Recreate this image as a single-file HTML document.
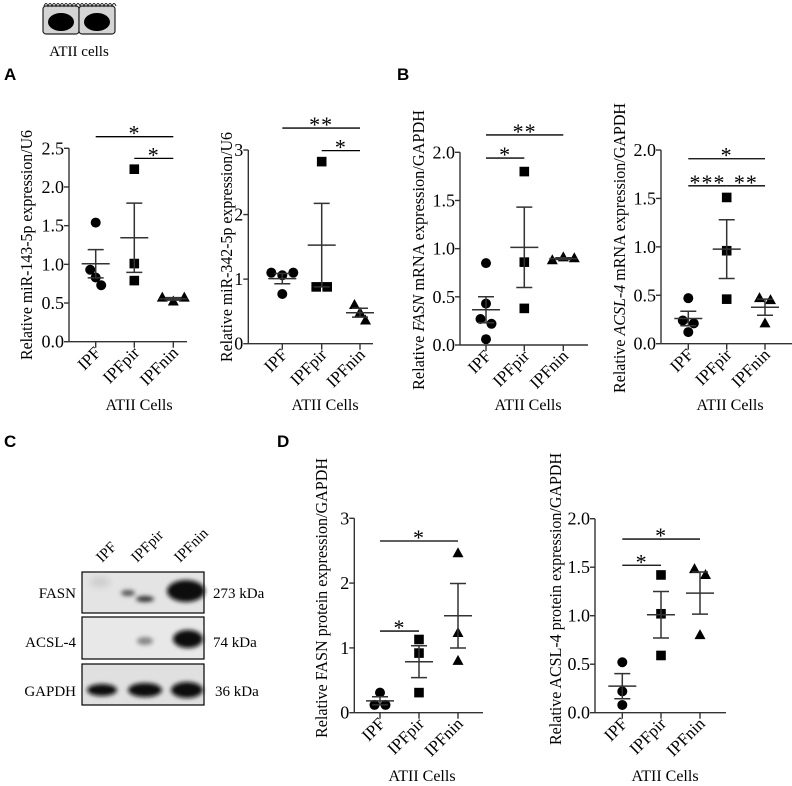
<!DOCTYPE html>
<html><head><meta charset="utf-8"><style>
html,body{margin:0;padding:0;background:#fff;}
svg{display:block;}
svg text{font-family:"Liberation Serif","Times New Roman",serif;}
svg text.pl{font-family:"Liberation Sans",Arial,sans-serif;font-weight:bold;font-size:17px;}
</style></head><body>
<svg id="fig" width="792" height="786" viewBox="0 0 792 786" xmlns="http://www.w3.org/2000/svg">
<defs><filter id="blur" x="-50%" y="-50%" width="200%" height="200%"><feGaussianBlur stdDeviation="2.2"/></filter>
<filter id="blur2" x="-50%" y="-50%" width="200%" height="200%"><feGaussianBlur stdDeviation="3.5"/></filter></defs>
<g>
  <rect x="43" y="6" width="36" height="28" rx="3" fill="#d4d4d4" stroke="#222" stroke-width="1.2"/>
  <rect x="79" y="6" width="36" height="28" rx="3" fill="#d4d4d4" stroke="#222" stroke-width="1.2"/>
  <path d="M44 6 q2 -5 4 0 q2 -5 4 0 q2 -5 4 0 q2 -5 4 0 q2 -5 4 0 q2 -5 4 0 q2 -5 4 0 q2 -5 4 0 q2 -5 4 0 q2 -5 4 0 q2 -5 4 0 q2 -5 4 0 q2 -5 4 0 q2 -5 4 0 q2 -5 4 0 q2 -5 4 0 q2 -5 4 0 q2 -5 4 0" fill="none" stroke="#222" stroke-width="1"/>
  <ellipse cx="61" cy="22" rx="13" ry="9" fill="#000"/>
  <ellipse cx="97" cy="22" rx="13" ry="9" fill="#000"/>
  <text x="79" y="56" text-anchor="middle" font-size="15">ATII cells</text>
</g>
<text class="pl" x="4" y="80">A</text>
<text class="pl" x="397" y="80">B</text>
<text class="pl" x="4" y="447">C</text>
<text class="pl" x="277" y="447">D</text>

<g>
  <text transform="translate(102,563) rotate(-45)" font-size="15">IPF</text>
  <text transform="translate(137,563) rotate(-45)" font-size="15">IPFpir</text>
  <text transform="translate(180,563) rotate(-45)" font-size="15">IPFnin</text>
  <rect x="82" y="572" width="122" height="41" fill="#e4e4e4" stroke="#000" stroke-width="1.2"/>
  <rect x="82" y="617" width="122" height="42" fill="#e8e8e8" stroke="#000" stroke-width="1.2"/>
  <rect x="82" y="664" width="122" height="41" fill="#e0e0e0" stroke="#000" stroke-width="1.2"/>
  <g filter="url(#blur)">
    <ellipse cx="128" cy="593" rx="7" ry="3" fill="#555"/>
    <ellipse cx="145" cy="599" rx="9" ry="3" fill="#333"/>
    <ellipse cx="186" cy="591" rx="19" ry="11" fill="#111"/>
    <ellipse cx="145" cy="641" rx="8" ry="4" fill="#888"/>
    <ellipse cx="188" cy="639" rx="15" ry="9" fill="#0a0a0a"/>
    <ellipse cx="102" cy="690" rx="15" ry="6" fill="#111"/>
    <ellipse cx="145" cy="690" rx="17" ry="7" fill="#0a0a0a"/>
    <ellipse cx="187" cy="690" rx="16" ry="8" fill="#0a0a0a"/>
  </g>
  <g filter="url(#blur2)"><ellipse cx="100" cy="582" rx="10" ry="5" fill="#ccc"/></g>
  <text x="76" y="598" text-anchor="end" font-size="15">FASN</text>
  <text x="76" y="647" text-anchor="end" font-size="15">ACSL-4</text>
  <text x="76" y="696" text-anchor="end" font-size="15">GAPDH</text>
  <text x="213" y="598" font-size="15">273 kDa</text>
  <text x="213" y="647" font-size="15">74 kDa</text>
  <text x="215" y="696" font-size="15">36 kDa</text>
</g>
</svg>
<script>
// ---- data ----
const categories = ["IPF","IPFpir","IPFnin"];
// Panel A1 miR-143-5p
const a1_ipf = [1.54,0.93,0.83,0.73];
const a1_pir = [2.23,1.01,0.79];
const a1_nin = [0.57,0.52,0.57];
const a1_ticks = ["0.0","0.5","1.0","1.5","2.0","2.5"];
const a1_sig = [[0,2,2.65,"*"],[1,2,2.37,"*"]];
// Panel A2 miR-342-5p
const a2_ipf = [1.10,1.06,1.10,0.77];
const a2_pir = [2.82,0.88,0.88];
const a2_nin = [0.60,0.48,0.36];
const a2_ticks = ["0","1","2","3"];
const a2_sig = [[0,2,3.34,"**"],[1,2,2.99,"*"]];
// Panel B1 FASN mRNA
const b1_ipf = [0.85,0.43,0.27,0.22,0.06];
const b1_pir = [1.80,0.86,0.38];
const b1_nin = [0.88,0.91,0.90];
const b1_ticks = ["0.0","0.5","1.0","1.5","2.0"];
const b1_sig = [[0,2,2.18,"**"],[0,1,1.94,"*"]];
// Panel B2 ACSL-4 mRNA
const b2_ipf = [0.47,0.24,0.21,0.12];
const b2_pir = [1.51,0.96,0.46];
const b2_nin = [0.47,0.45,0.21];
const b2_ticks = ["0.0","0.5","1.0","1.5","2.0"];
const b2_sig = [[0,2,1.91,"*"],[0,1,1.63,"***"],[1,2,1.63,"**"]];
// Panel D1 FASN protein
const d1_ipf = [0.31,0.12,0.12];
const d1_pir = [1.13,0.92,0.31];
const d1_nin = [2.46,1.23,0.80];
const d1_ticks = ["0","1","2","3"];
const d1_sig = [[0,2,2.65,"*"],[0,1,1.26,"*"]];
// Panel D2 ACSL-4 protein
const d2_ipf = [0.52,0.22,0.08];
const d2_pir = [1.42,1.02,0.59];
const d2_nin = [1.48,1.42,0.80];
const d2_ticks = ["0.0","0.5","1.0","1.5","2.0"];
const d2_sig = [[0,2,1.79,"*"],[0,1,1.52,"*"]];

const NS="http://www.w3.org/2000/svg";
const svg=document.getElementById('fig');
function mk(tag,attrs,parent){const e=document.createElementNS(NS,tag);for(const k in attrs)e.setAttribute(k,attrs[k]);(parent||svg).appendChild(e);return e;}

function panel(name,cfg,groups,ticks,sig,titleParts){
  const g=mk('g',{});
  
  
  const ymax=parseFloat(ticks[ticks.length-1]);
  const Y=v=>cfg.y0-(v/ymax)*(cfg.y0-cfg.yTop);
  const X=i=>cfg.cx[i];
  const ya=mk('line',{x1:cfg.ax,y1:cfg.y0,x2:cfg.ax,y2:cfg.yTop,stroke:'#333','stroke-width':1.4},g);
  
  
  const xa=mk('line',{x1:cfg.ax,y1:cfg.y0,x2:cfg.xEnd,y2:cfg.y0,stroke:'#333','stroke-width':1.4},g);
  
  
  ticks.forEach(t=>{const v=parseFloat(t);const y=Y(v);
    mk('line',{x1:cfg.ax-5,y1:y,x2:cfg.ax,y2:y,stroke:'#333','stroke-width':1.4},g);
    const tl=mk('text',{x:cfg.ax-5,y:y+6,'text-anchor':'end','font-size':18},g);tl.textContent=t;
    
    
  });
  categories.forEach((c,i)=>{
    mk('line',{x1:X(i),y1:cfg.y0,x2:X(i),y2:cfg.y0+6,stroke:'#333','stroke-width':1.4},g);
    const tl=mk('text',{transform:`translate(${X(i)+6},${cfg.y0+12}) rotate(-45)`,'text-anchor':'end','font-size':17},g);tl.textContent=c;
    
    
  });
  groups.forEach((arr,i)=>{
    const n=arr.length,m=arr.reduce((a,b)=>a+b,0)/n;
    const sd=Math.sqrt(arr.reduce((a,b)=>a+(b-m)*(b-m),0)/(n-1));const se=sd/Math.sqrt(n);
    const offs=arr.map((v,j)=>{let o=0;arr.forEach((w,k)=>{if(k<j&&Math.abs(Y(w)-Y(v))<8)o++;});return o;});
    arr.forEach((v,j)=>{
      const cnt=arr.filter(w=>Math.abs(Y(w)-Y(v))<8).length;
      const x=X(i)+(cnt>1?(offs[j]-(cnt-1)/2)*11:0);const y=Y(v);let p;
      if(i===0)p=mk('circle',{cx:x,cy:y,r:5,fill:'#000'},g);
      else if(i===1)p=mk('rect',{x:x-4.8,y:y-4.8,width:9.6,height:9.6,fill:'#000'},g);
      else p=mk('path',{d:`M${x} ${y-6} L${x+5.5} ${y+4} L${x-5.5} ${y+4}Z`,fill:'#000'},g);
      
      
    });
    const ml=mk('line',{x1:X(i)-14,y1:Y(m),x2:X(i)+14,y2:Y(m),stroke:'#333','stroke-width':1.5},g);
    
    
    const eb=mk('path',{d:`M${X(i)} ${Y(m-se)} V${Y(m+se)} M${X(i)-8} ${Y(m+se)} H${X(i)+8} M${X(i)-8} ${Y(m-se)} H${X(i)+8}`,stroke:'#333','stroke-width':1.5,fill:'none'},g);
    
    
  });
  sig.forEach(s=>{
    const y=Y(s[2]);const x1=X(s[0]),x2=X(s[1]);
    const l=mk('line',{x1:x1,y1:y,x2:x2,y2:y,stroke:'#000','stroke-width':1.3},g);
    
    
    const t=mk('text',{x:(x1+x2)/2,y:y+4,'text-anchor':'middle','font-size':22,'letter-spacing':'1'},g);t.textContent=s[3];
    
    
  });
  const yt=mk('text',{transform:`translate(${cfg.tx},${cfg.ty}) rotate(-90)`,'text-anchor':'middle','font-size':16.5,textLength:cfg.tl,lengthAdjust:'spacingAndGlyphs'},g);
  titleParts.forEach(p=>{const ts=mk('tspan',p[1]?{'font-style':'italic'}:{},yt);ts.textContent=p[0];});
  
  
  const xl=mk('text',{x:cfg.xlx,y:cfg.xly,'text-anchor':'middle','font-size':16},g);xl.textContent='ATII Cells';
  
  
}

panel('chart-mir143',{ax:69,y0:341.7,yTop:148.3,xEnd:187,cx:[95.7,134.3,173.3],tx:32,ty:245,tl:230,xlx:139,xly:410},
  [a1_ipf,a1_pir,a1_nin],a1_ticks,a1_sig,[["Relative miR-143-5p expression/U6",0]]);
panel('chart-mir342',{ax:248.3,y0:343.7,yTop:150,xEnd:373,cx:[282.3,321.7,360],tx:232,ty:247,tl:230,xlx:325,xly:410},
  [a2_ipf,a2_pir,a2_nin],a2_ticks,a2_sig,[["Relative miR-342-5p expression/U6",0]]);
panel('chart-fasn-mrna',{ax:460,y0:345,yTop:152.3,xEnd:588,cx:[486,524.3,563.3],tx:424,ty:250,tl:280,xlx:528,xly:410},
  [b1_ipf,b1_pir,b1_nin],b1_ticks,b1_sig,[["Relative ",0],["FASN",1],[" mRNA expression/GAPDH",0]]);
panel('chart-acsl4-mrna',{ax:661,y0:343.7,yTop:150,xEnd:792,cx:[688.3,726.7,765],tx:625,ty:248,tl:290,xlx:730,xly:410},
  [b2_ipf,b2_pir,b2_nin],b2_ticks,b2_sig,[["Relative ",0],["ACSL-4",1],[" mRNA expression/GAPDH",0]]);
panel('chart-fasn-protein',{ax:354.3,y0:712.7,yTop:518.3,xEnd:483,cx:[380,419,458],tx:327,ty:598,tl:280,xlx:422,xly:781},
  [d1_ipf,d1_pir,d1_nin],d1_ticks,d1_sig,[["Relative FASN protein expression/GAPDH",0]]);
panel('chart-acsl4-protein',{ax:595,y0:712.7,yTop:518.7,xEnd:726,cx:[622.3,661,700],tx:561,ty:599,tl:292,xlx:665,xly:781},
  [d2_ipf,d2_pir,d2_nin],d2_ticks,d2_sig,[["Relative ACSL-4 protein expression/GAPDH",0]]);
</script>
</body></html>
